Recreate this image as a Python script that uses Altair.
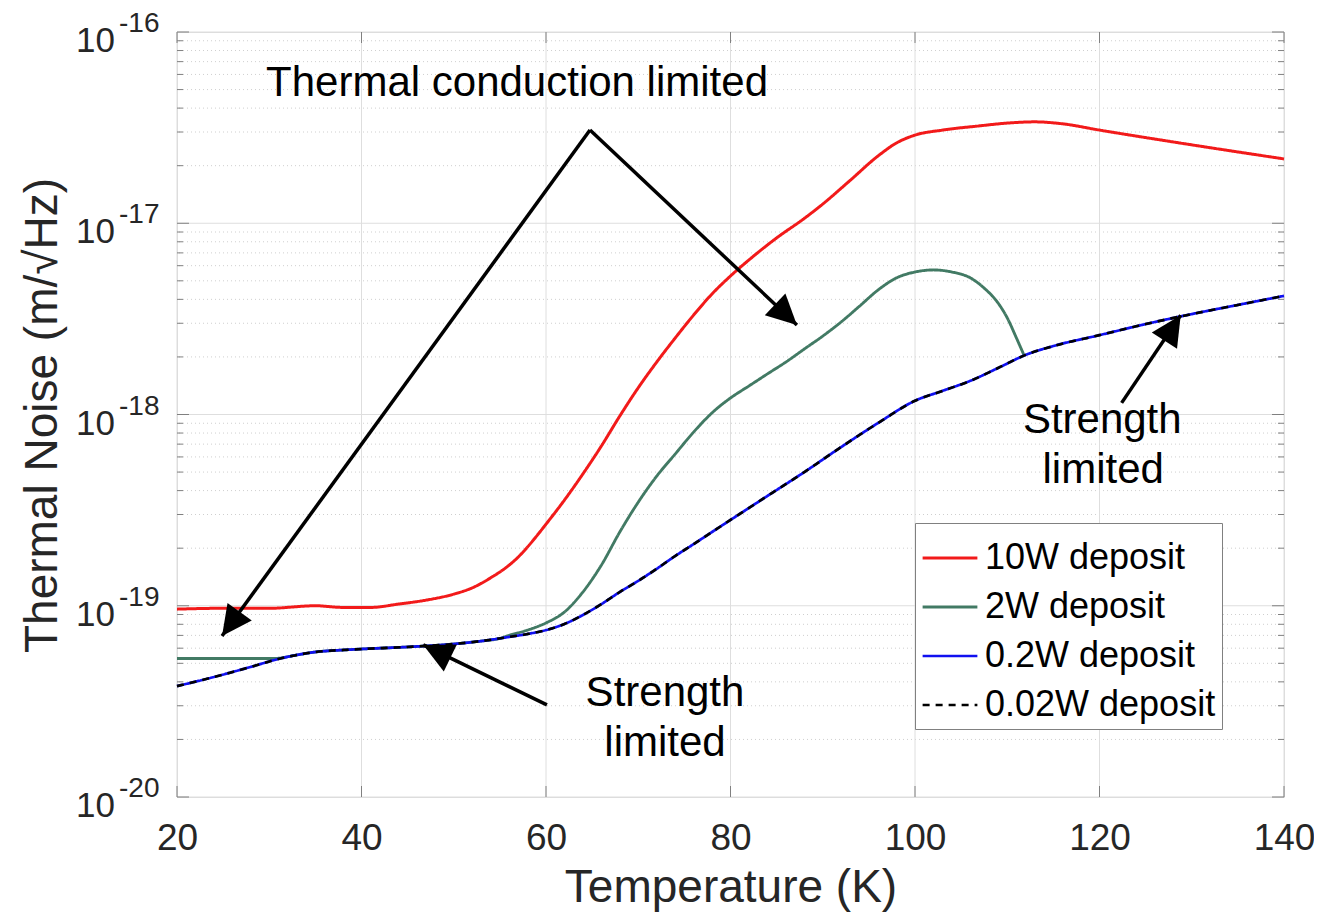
import altair as alt
import pandas as pd

FONT = "Liberation Sans, Arial, Helvetica, sans-serif"
W, H = 1107, 765

# ---- data ----
red_T = [20, 25, 30, 35, 38, 41, 44, 47, 50, 52, 54, 56, 57, 58, 59, 60, 62, 64, 66, 68, 70, 72, 74,
         76, 78, 80, 82, 85, 88, 90, 93, 96, 98, 100, 103, 107, 110, 113, 116, 120, 130, 140]
red_v = [9.6e-20, 9.7e-20, 9.7e-20, 1.0e-19, 9.8e-20, 9.8e-20, 1.02e-19, 1.07e-19, 1.15e-19, 1.24e-19,
         1.40e-19, 1.63e-19, 1.80e-19, 2.03e-19, 2.32e-19, 2.67e-19, 3.57e-19, 4.89e-19, 6.84e-19,
         9.82e-19, 1.38e-18, 1.88e-18, 2.51e-18, 3.31e-18, 4.27e-18, 5.30e-18, 6.43e-18, 8.38e-18,
         1.06e-17, 1.26e-17, 1.68e-17, 2.25e-17, 2.63e-17, 2.89e-17, 3.07e-17, 3.23e-17, 3.34e-17,
         3.39e-17, 3.31e-17, 3.07e-17, 2.57e-17, 2.17e-17]

green_T = [20, 25, 30.5, 33, 35, 38, 40, 45, 50, 53, 55, 56, 58, 60, 62, 64, 66, 68, 70, 72, 74, 76,
           78, 80, 82, 84, 86, 88, 90, 92, 94, 96, 98, 100, 102, 104, 106, 107.5, 109, 110, 111, 111.8]
green_v = [5.30e-20, 5.30e-20, 5.30e-20, 5.53e-20, 5.73e-20, 5.87e-20, 5.94e-20, 6.09e-20, 6.31e-20,
           6.54e-20, 6.75e-20, 7.0e-20, 7.46e-20, 8.13e-20, 9.27e-20, 1.18e-19, 1.63e-19, 2.43e-19,
           3.48e-19, 4.76e-19, 6.21e-19, 8.09e-19, 1.02e-18, 1.22e-18, 1.41e-18, 1.63e-18, 1.88e-18,
           2.20e-18, 2.57e-18, 3.05e-18, 3.69e-18, 4.48e-18, 5.18e-18, 5.56e-18, 5.70e-18, 5.56e-18,
           5.18e-18, 4.58e-18, 3.83e-18, 3.20e-18, 2.51e-18, 2.05e-18]

blue_T = [20, 24, 28, 31, 33, 35, 38, 40, 45, 50, 53, 56, 58, 60, 62, 64, 66, 68, 70, 72, 74, 76, 78,
          80, 84, 88, 92, 96, 100, 103, 106, 109, 112, 115, 120, 125, 130, 135, 140]
blue_v = [3.80e-20, 4.24e-20, 4.79e-20, 5.27e-20, 5.53e-20, 5.73e-20, 5.87e-20, 5.94e-20, 6.09e-20,
          6.31e-20, 6.54e-20, 6.87e-20, 7.12e-20, 7.46e-20, 8.03e-20, 8.95e-20, 1.02e-19, 1.18e-19,
          1.35e-19, 1.56e-19, 1.82e-19, 2.10e-19, 2.43e-19, 2.81e-19, 3.75e-19, 5.00e-19, 6.76e-19,
          9.03e-19, 1.18e-18, 1.33e-18, 1.50e-18, 1.75e-18, 2.05e-18, 2.28e-18, 2.60e-18, 2.97e-18,
          3.35e-18, 3.74e-18, 4.17e-18]

black_T = [20, 24, 28, 31, 33, 35, 38, 40, 45, 50, 53, 56, 58, 60, 62, 64, 66, 68, 70, 72, 74, 76, 78,
           80, 84, 88, 92, 96, 100, 103, 106, 109, 112, 115, 120, 125, 130, 135, 140]
black_v = [3.80e-20, 4.24e-20, 4.79e-20, 5.27e-20, 5.53e-20, 5.73e-20, 5.87e-20, 5.94e-20, 6.09e-20,
           6.31e-20, 6.54e-20, 6.87e-20, 7.12e-20, 7.46e-20, 8.03e-20, 8.95e-20, 1.02e-19, 1.18e-19,
           1.35e-19, 1.56e-19, 1.82e-19, 2.10e-19, 2.43e-19, 2.81e-19, 3.75e-19, 5.00e-19, 6.76e-19,
           9.03e-19, 1.18e-18, 1.33e-18, 1.50e-18, 1.75e-18, 2.05e-18, 2.28e-18, 2.60e-18, 2.97e-18,
           3.35e-18, 3.74e-18, 4.17e-18]

series_names = ["10W deposit", "2W deposit", "0.2W deposit", "0.02W deposit"]
series_colors = ["#f21a1a", "#427a64", "#1010f0", "#000000"]
series_dash = [[1, 0], [1, 0], [1, 0], [7, 6]]
series_width = [3, 2.6, 3, 3]

x_ticks = [20, 40, 60, 80, 100, 120, 140]
y_major = [1e-20, 1e-19, 1e-18, 1e-17, 1e-16]
y_major_exp = ["-20", "-19", "-18", "-17", "-16"]
y_minor = [m * d for d in [1e-20, 1e-19, 1e-18, 1e-17] for m in range(2, 10)]

# annotations
note_text = ["Thermal conduction limited", "Strength", "limited", "Strength", "limited"]
note_T = [56.86, 72.9, 72.9, 120.3, 120.4]
note_v = [5.41e-17, 3.50e-20, 1.91e-20, 9.35e-19, 5.13e-19]

arrow_T = [64.77, 64.77, 60.1, 122.4]
arrow_v = [3.07e-17, 3.07e-17, 3.03e-20, 1.15e-18]
arrow_T2 = [24.88, 87.2, 46.7, 128.8]
arrow_v2 = [6.95e-20, 2.94e-18, 6.24e-20, 3.3e-18]
arrow_angle = [216, 133.3, 295.8, 32.8]

# ---- tables ----
rows = []
for name, Ts, Vs in zip(series_names, [red_T, green_T, blue_T, black_T], [red_v, green_v, blue_v, black_v]):
    for t, v in zip(Ts, Vs):
        rows.append({"T": t, "v": v, "series": name})
curves = pd.DataFrame(rows)

xs = alt.Scale(domain=[20, 140], nice=False, zero=False)
ys = alt.Scale(type="log", domain=[1e-20, 1e-16], nice=False)

GRID = "#dedede"
AX = "#808080"

x_axis = alt.Axis(
    values=x_ticks, title="Temperature (K)", grid=False, ticks=False, tickSize=0, domain=False,
    labelFontSize=37, labelFont=FONT, labelColor="#262626", labelPadding=41, labelFlush=False,
    labelBaseline="middle", titleFontSize=46, titleFont=FONT, titleFontWeight="normal",
    titleColor="#262626", titleY=90, titleBaseline="middle")
y_axis = alt.Axis(
    labels=False, ticks=False, domain=False, grid=False, title="Thermal Noise (m/√Hz)",
    titleFontSize=46, titleFont=FONT, titleFontWeight="normal", titleColor="#262626",
    titleAngle=270, titleX=-135, titleY=383, titleAlign="center", titleBaseline="middle")


def X(field="T"):
    return alt.X(f"{field}:Q", scale=xs, axis=x_axis, title="Temperature (K)")


def Y(field="v"):
    return alt.Y(f"{field}:Q", scale=ys, axis=y_axis, title="Thermal Noise (m/√Hz)")


grid_major = alt.Chart(pd.DataFrame({"v": y_major})).mark_rule(color=GRID, strokeWidth=1).encode(y=Y())
grid_minor = alt.Chart(pd.DataFrame({"v": y_minor})).mark_rule(
    color="#cfcfcf", strokeWidth=1, strokeDash=[1, 3]).encode(y=Y())
grid_x = alt.Chart(pd.DataFrame({"T": x_ticks})).mark_rule(color=GRID, strokeWidth=1).encode(x=X())

tk_major = pd.DataFrame({"v": y_major})
tk_minor = pd.DataFrame({"v": y_minor})
tk_x = pd.DataFrame({"T": x_ticks})
ticks = [
    alt.Chart(tk_major).mark_rule(color=AX).encode(y=Y(), x=alt.value(0), x2=alt.value(12)),
    alt.Chart(tk_major).mark_rule(color=AX).encode(y=Y(), x=alt.value(W - 12), x2=alt.value(W)),
    alt.Chart(tk_minor).mark_rule(color=AX).encode(y=Y(), x=alt.value(0), x2=alt.value(6)),
    alt.Chart(tk_minor).mark_rule(color=AX).encode(y=Y(), x=alt.value(W - 6), x2=alt.value(W)),
    alt.Chart(tk_x).mark_rule(color=AX).encode(x=X(), y=alt.value(H - 11), y2=alt.value(H)),
    alt.Chart(tk_x).mark_rule(color=AX).encode(x=X(), y=alt.value(0), y2=alt.value(11)),
]

ylab = pd.DataFrame({"v": y_major, "base": ["10"] * 5, "exp": y_major_exp})
ylab_base = alt.Chart(ylab).mark_text(align="right", baseline="middle", dy=9, fontSize=35,
                                      font=FONT, color="#262626").encode(
    y=Y(), x=alt.value(-62), text="base:N")
ylab_exp = alt.Chart(ylab).mark_text(align="left", baseline="middle", dy=-8, fontSize=28,
                                     font=FONT, color="#262626").encode(
    y=Y(), x=alt.value(-58), text="exp:N")

leg = alt.Legend(orient="none", legendX=738, legendY=491, title=None, labelFontSize=36,
                 labelFont=FONT, labelColor="#000000", symbolType="stroke", symbolSize=3000,
                 symbolStrokeWidth=3, strokeColor=AX, fillColor="white", padding=6,
                 labelOffset=6, rowPadding=2, labelLimit=500, cornerRadius=0)

lines = alt.Chart(curves).mark_line(interpolate="monotone").encode(
    x=X(), y=Y(),
    color=alt.Color("series:N", scale=alt.Scale(domain=series_names, range=series_colors), legend=leg),
    strokeDash=alt.StrokeDash("series:N", scale=alt.Scale(domain=series_names, range=series_dash), legend=leg),
    strokeWidth=alt.StrokeWidth("series:N", scale=alt.Scale(domain=series_names, range=series_width), legend=None),
    order=alt.Order("T:Q"),
)

notes = alt.Chart(pd.DataFrame({"T": note_T, "v": note_v, "text": note_text})).mark_text(
    fontSize=42, font=FONT, color="#000000", baseline="middle", align="center").encode(
    x=X(), y=Y(), text="text:N")

arr = pd.DataFrame({"T": arrow_T, "v": arrow_v, "T2": arrow_T2, "v2": arrow_v2, "angle": arrow_angle})
arrow_lines = alt.Chart(arr).mark_rule(color="#000000", strokeWidth=3.5).encode(
    x=X(), y=Y(), x2="T2:Q", y2="v2:Q")
arrow_heads = alt.Chart(arr).mark_point(
    shape="M0,0L-0.5,1L0.5,1Z", filled=True, color="#000000", opacity=1, size=3600, strokeWidth=0).encode(
    x=X("T2"), y=Y("v2"), angle=alt.Angle("angle:Q", scale=None))

chart = alt.layer(
    grid_minor, grid_major, grid_x, *ticks, lines, arrow_lines, arrow_heads, notes, ylab_base, ylab_exp
).properties(
    width=W, height=H,
    padding={"left": 169, "top": 24, "right": 30, "bottom": 115},
    autosize=alt.AutoSizeParams(type="none"),
).configure_view(stroke=AX, strokeWidth=1.5).configure(background="white")

chart.save("out.html", embed_options={"renderer": "svg", "actions": False})
